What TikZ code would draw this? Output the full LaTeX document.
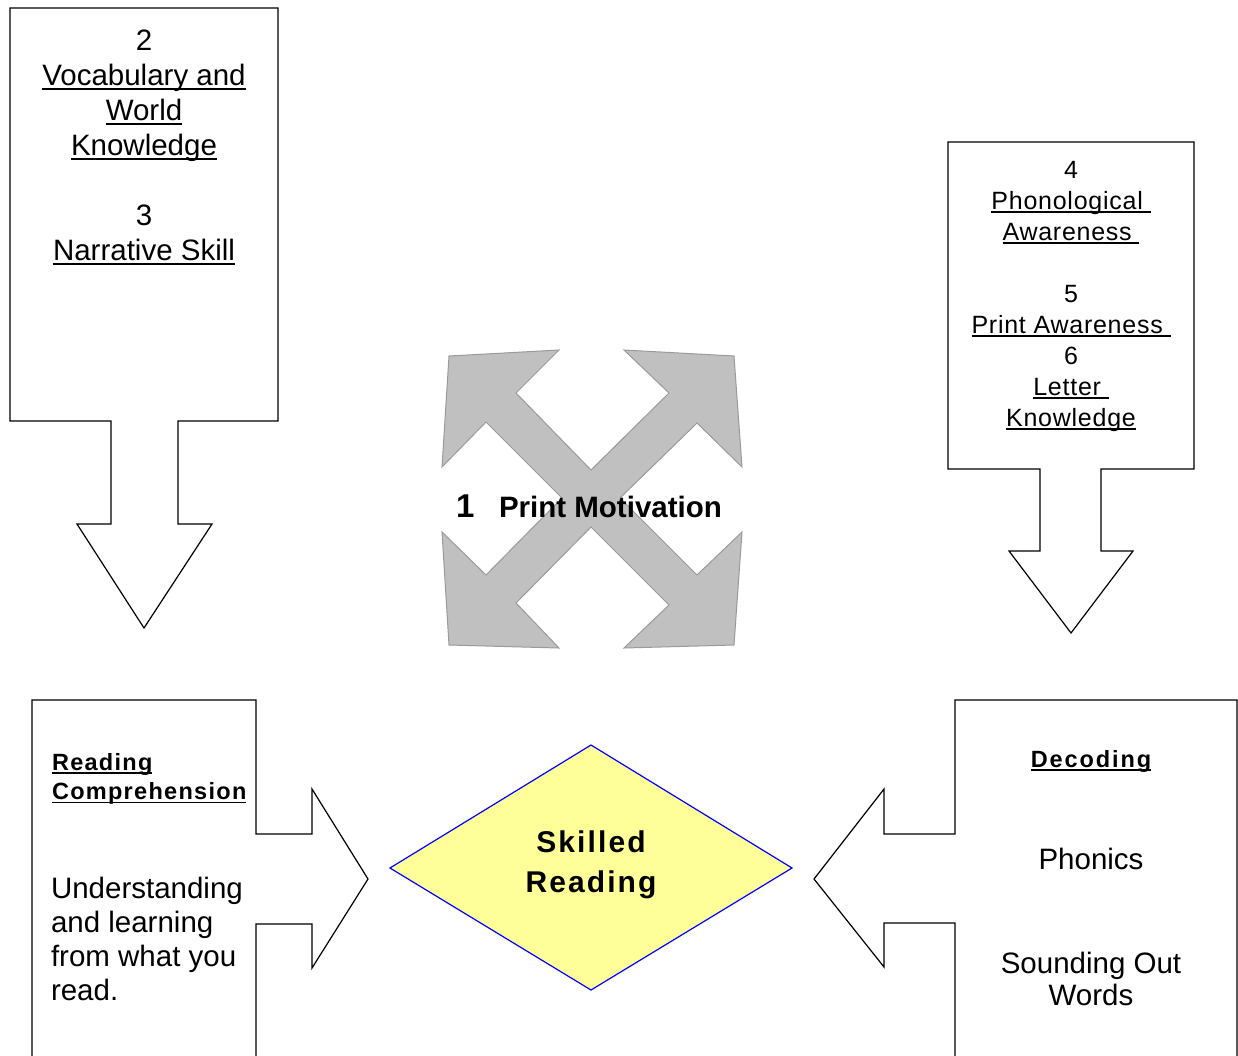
\documentclass[tikz,border=0pt]{standalone}
\usepackage{fontspec}
\setmainfont{Liberation Sans}
\newfontfamily\spA[LetterSpace=3]{Liberation Sans}
\newfontfamily\spB[LetterSpace=5.5]{Liberation Sans}
\newfontfamily\spC[LetterSpace=8]{Liberation Sans}
\newfontfamily\spD[LetterSpace=7]{Liberation Sans}
\newcommand\myul[1]{\setbox0=\hbox{#1}\rlap{\rule[-0.16em]{\wd0}{0.065em}}\box0}
\definecolor{xgray}{HTML}{C0C0C0}
\definecolor{xedge}{HTML}{9A9A9A}
\definecolor{dfill}{HTML}{FFFF99}
\begin{document}
\begin{tikzpicture}[x=1pt,y=-1pt,
  outl/.style={draw=black,line width=1.2pt,line join=miter},
  txt/.style={inner sep=0pt,outer sep=0pt}]
\useasboundingbox (0,0) rectangle (1238,1055);
\fill[white] (0,0) rectangle (1238,1055);

% top-left box with down arrow
\draw[outl] (10,8) -- (278,8) -- (278,421) -- (178,421) -- (178,524) -- (212,524)
  -- (144,628) -- (77,524) -- (111,524) -- (111,421) -- (10,421) -- cycle;

% top-right box with down arrow
\draw[outl] (948,142) -- (1194,142) -- (1194,469) -- (1101,469) -- (1101,551) -- (1133,551)
  -- (1071,633) -- (1009,551) -- (1040,551) -- (1040,469) -- (948,469) -- cycle;

% bottom-left box with right arrow
\draw[outl] (32,1060) -- (32,700) -- (256,700) -- (256,834) -- (312,834) -- (312,789)
  -- (368,879) -- (312,968) -- (312,924) -- (256,924) -- (256,1060);

% bottom-right box with left arrow
\draw[outl] (955,1060) -- (955,923) -- (884,923) -- (884,967) -- (814,879) -- (884,789)
  -- (884,834) -- (955,834) -- (955,700) -- (1237,700) -- (1237,1060);

% central four-way arrow
\draw[fill=xgray,draw=xedge,line width=1pt,line join=miter]
  (591,470) -- (669,393) -- (624,350) -- (734,356) -- (742,467) -- (697,423)
  -- (620,498) -- (697,575) -- (742,532) -- (734,645) -- (624,648) -- (669,605)
  -- (591,527) -- (516,603) -- (559,648) -- (449,645) -- (442,532) -- (486,575)
  -- (562,498) -- (486,422) -- (442,467) -- (449,356) -- (559,350) -- (516,393) -- cycle;

% diamond
\draw[fill=dfill,draw=blue,line width=1.2pt] (591,745) -- (792,868) -- (591,990) -- (390,868) -- cycle;

% texts
\node[txt,anchor=base,font=\fontsize{29.5}{35}\selectfont] (tl) at (144,50)
  {\begin{tabular}[t]{@{}c@{}}2\\ \myul{Vocabulary and}\\ \myul{World}\\ \myul{Knowledge}\\ \\ 3\\ \myul{Narrative Skill}\end{tabular}};

\node[txt,anchor=base,font=\spA\fontsize{25}{31}\selectfont] (tr) at (1071,178)
  {\begin{tabular}[t]{@{}c@{}}4\\ \myul{Phonological\ }\\ \myul{Awareness\ }\\ \\ 5\\ \myul{Print Awareness\ }\\ 6\\ \myul{Letter\ }\\ \myul{Knowledge}\end{tabular}};

\node[txt,anchor=base west,font=\bfseries\fontsize{33}{38}\selectfont] (one) at (456,517) {1};
\node[txt,anchor=base west,font=\bfseries\fontsize{29.5}{35}\selectfont] (pm) at (499,517) {Print Motivation};

\node[txt,anchor=base west,font=\spB\bfseries\fontsize{23.5}{29.5}\selectfont] (rc) at (52,770)
  {\begin{tabular}[t]{@{}l@{}}\myul{Reading}\\ \myul{Comprehension}\end{tabular}};
\node[txt,anchor=base west,font=\fontsize{29.5}{34}\selectfont] (rcb) at (51,898)
  {\begin{tabular}[t]{@{}l@{}}Understanding\\ and learning\\ from what you\\ read.\end{tabular}};

\node[txt,anchor=base,font=\spC\bfseries\fontsize{23.5}{29.5}\selectfont] (dec) at (1091,767) {\myul{Decoding}};
\node[txt,anchor=base,font=\fontsize{29.5}{34}\selectfont] (ph) at (1091,869) {Phonics};
\node[txt,anchor=base,font=\fontsize{29.5}{32}\selectfont] (so) at (1091,973)
  {\begin{tabular}[t]{@{}c@{}}Sounding Out\\ Words\end{tabular}};

\node[txt,anchor=base,font=\spD\bfseries\fontsize{30}{40}\selectfont] (sr) at (591,852)
  {\begin{tabular}[t]{@{}c@{}}Skilled\\ Reading\end{tabular}};
\end{tikzpicture}
\end{document}
